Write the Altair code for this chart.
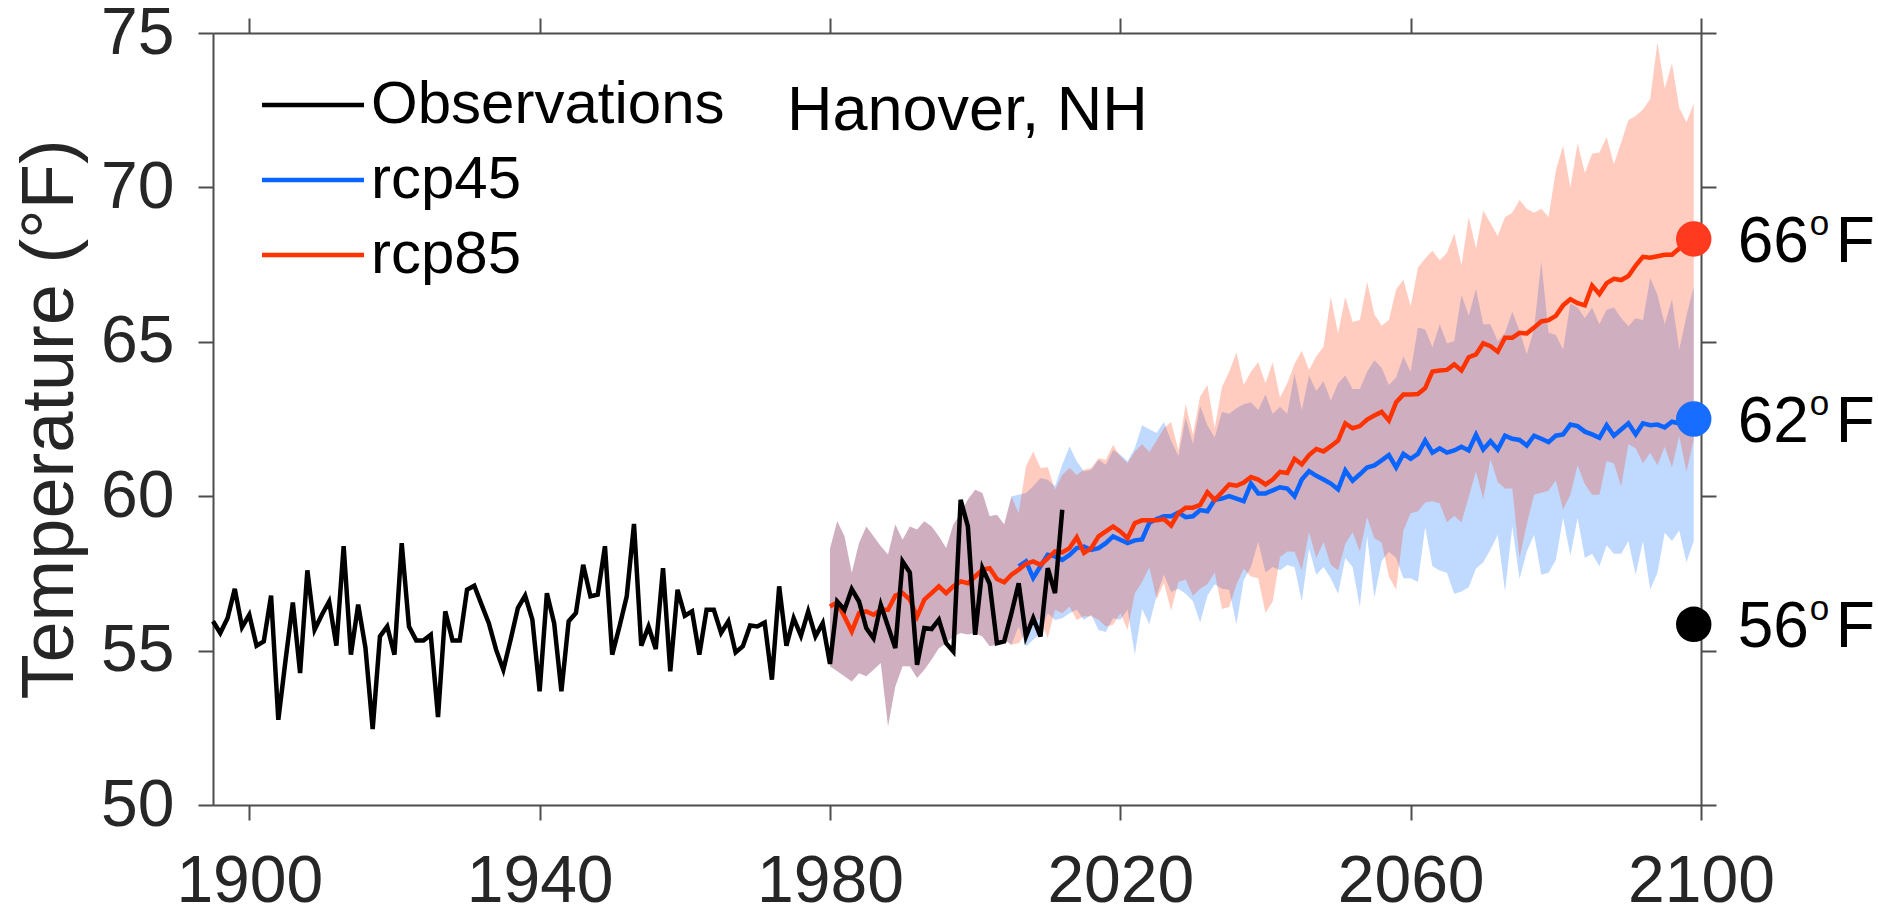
import altair as alt
import pandas as pd

# ---------------- data ----------------
obs_start = 1895
obs_temp = [
    55.95, 55.57, 56.05, 57.0, 55.76, 56.16, 55.16, 55.3, 56.78, 52.76,
    54.7, 56.56, 54.27, 57.6, 55.68, 56.16, 56.59, 55.16, 58.38, 54.87,
    56.49, 55.1, 52.46, 55.46, 55.78, 54.87, 58.48, 55.78, 55.33, 55.33,
    55.51, 52.85, 56.27, 55.33, 55.33, 56.97, 57.1, 56.49, 55.89, 55.03,
    54.38, 55.35, 56.38, 56.78, 56.0, 53.68, 56.86, 55.89, 53.68, 55.95,
    56.22, 57.78, 56.76, 56.81, 58.38, 54.87, 55.78, 56.76, 59.1, 55.16,
    55.78, 55.05, 57.67, 54.33, 56.97, 56.13, 56.27, 54.87, 56.32, 56.32,
    55.57, 55.95, 54.94, 55.14, 55.81, 55.78, 55.91, 54.06, 57.08, 55.16,
    56.05, 55.48, 56.27, 55.46, 55.89, 54.57, 56.59, 56.32, 56.99, 56.59,
    55.73, 55.4, 56.48, 55.78, 55.08, 57.89, 57.53, 54.54, 55.73, 55.7,
    56.0, 55.24, 54.97, 59.88, 59.02, 55.51, 57.67, 57.16, 55.24, 55.3,
    56.21, 57.18, 55.46, 56.05, 55.46, 57.67, 56.86, 59.56,
]

hist_start = 1980  # shared model spread 1980-2005
hist_upper = [
    58.3, 59.19, 58.7, 57.51, 58.48, 59.02, 58.7, 58.38, 58.11, 59.08,
    58.59, 59.02, 58.92, 59.19, 59.02, 58.7, 58.32, 59.08, 59.45, 59.89,
    60.21, 60.1, 59.35, 59.4, 59.08, 59.99,
]
hist_lower = [
    54.49, 54.33, 54.17, 54.0, 54.27, 54.17, 54.38, 54.6, 52.55, 53.84,
    54.49, 54.49, 54.11, 54.38, 54.71, 55.08, 55.24, 55.46, 55.57, 55.52,
    55.57, 55.46, 55.14, 55.19, 55.35, 55.19,
]

rcp85_start = 1980
rcp85_mean = [
    56.43, 56.56, 56.1, 55.62, 56.21, 56.27, 56.16, 56.32, 56.32, 56.78,
    56.86, 56.65, 56.1, 56.65, 56.86, 57.08, 56.86, 57.08, 57.24, 57.18,
    57.4, 57.62, 57.67, 57.32, 57.21, 57.46, 57.62, 57.81, 57.89, 57.78,
    57.99, 58.21, 58.18, 58.32, 58.67, 58.16, 58.32, 58.7, 58.86, 59.02,
    58.86, 58.64, 59.13, 59.22, 59.22, 59.22, 59.26, 59.05, 59.45, 59.63,
    59.63, 59.72, 60.13, 59.88, 60.13, 60.38, 60.34, 60.44, 60.62, 60.54,
    60.38, 60.54, 60.79, 60.75, 61.21, 61.03, 61.33, 61.53, 61.45, 61.62,
    61.8, 62.36, 62.2, 62.27, 62.48, 62.61, 62.73, 62.45, 63.04, 63.29,
    63.29, 63.31, 63.5, 64.04, 64.07, 64.09, 64.27, 64.07, 64.5, 64.59,
    64.95, 64.86, 64.68, 65.13, 65.13, 65.29, 65.27, 65.46, 65.66, 65.7,
    65.84, 66.18, 66.38, 66.25, 66.18, 66.82, 66.55, 66.9, 67.04, 67.0,
    67.13, 67.47, 67.75, 67.72, 67.77, 67.82, 67.82, 68.02, 68.22, 68.33,
]

rcp45_start = 2006
rcp45_mean = [
    57.73, 57.89, 57.35, 57.73, 58.1, 58.05, 57.94, 58.1, 58.32, 58.37,
    58.26, 58.32, 58.48, 58.7, 58.59, 58.48, 58.57, 58.6, 59.14, 59.26,
    59.35, 59.35, 59.47, 59.32, 59.35, 59.55, 59.51, 59.88, 59.92, 60.0,
    59.92, 59.84, 60.41, 60.09, 60.09, 60.19, 60.29, 60.25, 60.0, 60.54,
    60.81, 60.66, 60.54, 60.41, 60.22, 60.83, 60.5, 60.71, 60.93, 61.0,
    61.16, 61.33, 60.93, 61.37, 61.21, 61.37, 61.8, 61.41, 61.55, 61.41,
    61.48, 61.6, 61.48, 61.99, 61.51, 61.78, 61.51, 61.96, 61.86, 61.82,
    61.64, 61.96, 61.86, 61.75, 61.96, 62.0, 62.32, 62.27, 62.09, 62.0,
    61.89, 62.3, 61.96, 62.16, 62.36, 62.0, 62.36, 62.3, 62.32, 62.23,
    62.41, 62.36, 62.46, 62.5,
]

future_start = 2006  # scenario spreads 2006-2099
rcp85_upper = [
    59.45, 60.96, 61.45, 60.91, 60.94, 60.21, 60.69, 60.91, 60.69, 60.86,
    60.91, 61.23, 61.18, 61.66, 61.29, 61.07, 61.45, 61.68, 61.43, 61.8,
    62.2, 62.4, 61.5, 62.98, 62.0, 63.23, 63.6, 62.2, 63.54, 64.03,
    64.65, 63.6, 64.03, 64.34, 63.66, 64.34, 63.2, 63.66, 64.28, 64.71,
    64.09, 64.53, 64.84, 66.45, 65.27, 66.45, 65.64, 65.71, 66.94, 65.89,
    65.52, 65.71, 66.7, 67.01, 66.14, 67.4, 67.7, 67.95, 67.64, 67.88,
    68.5, 67.47, 69.04, 68.02, 69.25, 68.84, 68.43, 69.04, 69.18, 69.59,
    69.31, 69.18, 69.31, 69.04, 70.54, 71.36, 69.99, 71.43, 70.47, 71.09,
    71.13, 71.63, 70.75, 71.45, 72.18, 72.31, 72.52, 72.86, 74.7, 73.2,
    74.02, 72.59, 72.11, 72.72,
]
rcp45_upper = [
    60.05, 60.1, 60.32, 60.59, 60.53, 60.32, 61.02, 61.61, 61.13, 60.8,
    60.86, 61.18, 61.02, 61.5, 61.34, 61.13, 61.56, 62.3, 62.17, 62.05,
    62.4, 61.8, 61.3, 62.54, 61.7, 62.92, 62.3, 61.9, 62.73, 62.67,
    62.85, 62.98, 63.04, 62.79, 63.29, 62.67, 62.9, 62.67, 63.97, 62.79,
    63.91, 63.41, 63.72, 63.1, 63.66, 63.91, 63.47, 63.47, 64.03, 64.4,
    64.16, 63.6, 63.85, 64.53, 64.03, 65.46, 65.4, 64.82, 65.57, 64.95,
    65.02, 66.52, 65.84, 66.72, 65.57, 65.57, 65.02, 65.29, 65.97, 65.36,
    64.6, 65.43, 67.6, 65.29, 65.22, 64.75, 66.25, 66.11, 65.77, 66.11,
    65.57, 66.04, 66.11, 65.77, 65.5, 65.77, 65.7, 67.07, 66.52, 65.57,
    66.38, 64.75, 65.84, 66.79,
]
rcp85_lower = [
    55.24, 55.57, 56.0, 56.0, 55.4, 56.32, 56.21, 56.43, 55.99, 56.11,
    56.11, 56.0, 55.78, 55.84, 56.21, 55.67, 56.86, 57.22, 57.71, 56.66,
    57.2, 56.29, 57.22, 57.3, 56.78, 57.0, 57.15, 57.53, 56.35, 56.41,
    57.15, 57.65, 57.4, 57.34, 56.22, 56.6, 58.02, 58.21, 58.2, 57.6,
    58.83, 58.0, 58.52, 57.77, 57.6, 58.46, 58.83, 58.21, 59.32, 58.64,
    58.5, 57.4, 56.97, 58.89, 59.45, 59.51, 59.8, 59.84, 59.77, 59.16,
    59.37, 59.16, 59.98, 60.8, 59.91, 61.2, 60.46, 60.25, 60.25, 58.0,
    59.09, 60.05, 60.11, 60.18, 60.52, 59.57, 60.05, 61.0, 60.39, 60.05,
    60.05, 61.14, 61.07, 60.32, 61.68, 61.55, 61.07, 61.41, 61.0, 61.6,
    60.93, 61.95, 60.8, 61.82,
]
rcp45_lower = [
    55.78, 55.13, 55.35, 55.57, 56.21, 55.99, 56.05, 56.21, 56.32, 55.99,
    56.16, 55.67, 55.6, 56.05, 56.0, 56.32, 54.87, 56.35, 55.85, 56.78,
    57.46, 56.9, 57.0, 56.84, 56.6, 55.91, 56.78, 57.15, 57.0, 56.97,
    55.85, 57.28, 57.71, 58.52, 57.53, 57.71, 57.6, 57.77, 57.71, 56.6,
    58.3, 57.46, 57.71, 57.34, 56.84, 58.0, 57.71, 56.41, 58.7, 56.72,
    57.9, 58.2, 58.0, 57.34, 57.34, 57.22, 59.0, 57.73, 57.59, 57.52,
    56.84, 56.91, 57.05, 57.66, 57.86, 58.27, 58.75, 56.91, 59.02, 57.32,
    58.21, 58.75, 57.46, 57.52, 57.93, 59.3, 58.07, 59.3, 58.0, 58.14,
    57.73, 58.41, 58.14, 58.14, 58.55, 57.46, 58.55, 56.98, 57.52, 58.82,
    58.55, 58.89, 57.86, 58.55,
]

series_names = ["Observations", "rcp45", "rcp85"]
line_colors = ["#000000", "#0a64ff", "#ff3300"]
dot_colors = ["#000000", "#176dff", "#ff3a1f"]
end_year = 2099
end_values = [55.85, 62.5, 68.33]
end_labels = ["56", "62", "66"]
x_ticks = [1900, 1940, 1980, 2020, 2060, 2100]
y_ticks = [50, 55, 60, 65, 70, 75]

# ---------------- tables ----------------
def yrs(start, n):
    return list(range(start, start + n))

obs_df = pd.DataFrame({"year": yrs(obs_start, len(obs_temp)), "temp": obs_temp,
                       "series": "Observations"})
r85_df = pd.DataFrame({"year": yrs(rcp85_start, len(rcp85_mean)), "temp": rcp85_mean,
                       "series": "rcp85"})
r45_df = pd.DataFrame({"year": yrs(rcp45_start, len(rcp45_mean)), "temp": rcp45_mean,
                       "series": "rcp45"})
band_years = yrs(hist_start, len(hist_upper)) + yrs(future_start, len(rcp85_upper))
band85_df = pd.DataFrame({"year": band_years, "lo": hist_lower + rcp85_lower,
                          "hi": hist_upper + rcp85_upper})
band45_df = pd.DataFrame({"year": band_years, "lo": hist_lower + rcp45_lower,
                          "hi": hist_upper + rcp45_upper})
end_df = pd.DataFrame({"series": series_names, "year": end_year, "temp": end_values,
                       "label": end_labels})

# ---------------- scales & axes ----------------
FONT = "Liberation Sans"
x_scale = alt.Scale(domain=[1895, 2100], nice=False, zero=False)
y_scale = alt.Scale(domain=[50, 75], nice=False, zero=False)
color_scale = alt.Scale(domain=series_names, range=line_colors)

axis_style = dict(domainColor="#4d4d4d", domainWidth=2, tickColor="#4d4d4d",
                  tickWidth=2, tickSize=15, grid=False)
x_bottom = alt.Axis(orient="bottom", values=x_ticks, format="d", labelFontSize=66,
                    labelFont=FONT, labelColor="#262626", labelPadding=29,
                    labelFlush=False, labelOverlap=False, title=None, **axis_style)
x_top = alt.Axis(orient="top", values=x_ticks, labels=False, title=None, **axis_style)
y_left = alt.Axis(orient="left", values=y_ticks, labelFontSize=66, labelFont=FONT,
                  labelColor="#262626", labelPadding=24, labelOverlap=False,
                  title="Temperature (°F)", titleFontSize=74, titleFont=FONT,
                  titleFontWeight="normal", titleColor="#262626", titleX=-141,
                  titleY=386, titleAngle=270, titleAlign="center",
                  titleBaseline="alphabetic", **axis_style)
y_right = alt.Axis(orient="right", values=y_ticks, labels=False, title=None, **axis_style)

legend = alt.Legend(orient="none", legendX=70, legendY=42, title=None,
                    symbolType="M-5.1,0H5.1", symbolSize=400, symbolStrokeWidth=4.5,
                    labelFontSize=60, labelFont=FONT, labelColor="#000000",
                    labelLimit=0, labelOffset=28, rowPadding=15, padding=0)
color_enc = alt.Color("series:N", scale=color_scale, legend=legend)

def X(axis=None):
    return alt.X("year:Q", scale=x_scale, axis=axis)

# ---------------- layers ----------------
band45 = alt.Chart(band45_df).mark_area(color="#0066ff", opacity=0.25).encode(
    x=X(x_bottom), y=alt.Y("lo:Q", scale=y_scale, axis=y_left), y2="hi:Q")
band85 = alt.Chart(band85_df).mark_area(color="#ff3300", opacity=0.25).encode(
    x=X(), y=alt.Y("lo:Q", scale=y_scale, axis=None), y2="hi:Q")

def line(df):
    return alt.Chart(df).mark_line(strokeWidth=4.5).encode(
        x=X(), y=alt.Y("temp:Q", scale=y_scale, axis=None), color=color_enc)

dots = alt.Chart(end_df).mark_circle(size=1257, opacity=1).encode(
    x=X(x_top), y=alt.Y("temp:Q", scale=y_scale, axis=y_right),
    fill=alt.Fill("series:N", scale=alt.Scale(domain=series_names, range=dot_colors),
                  legend=None))

def txt(dx, dy, size, text):
    return alt.Chart(end_df).mark_text(align="left", baseline="alphabetic", dx=dx, dy=dy,
                                       fontSize=size, font=FONT, color="#000000").encode(
        x=X(), y=alt.Y("temp:Q", scale=y_scale, axis=None), text=text)

lab_num = txt(44, 23, 64, alt.Text("label:N"))
lab_o = txt(116, -4, 35, alt.value("o"))
lab_F = txt(142, 23, 64, alt.value("F"))

chart = alt.layer(
    band45, band85, line(r45_df), line(r85_df), line(obs_df), dots, lab_num, lab_o, lab_F
).properties(
    width=1488, height=772,
    title=alt.TitleParams("Hanover, NH", anchor="start", frame="group", orient="top",
                          fontSize=63, font=FONT, fontWeight="normal", color="#000000",
                          baseline="alphabetic", dx=574, dy=193, offset=0),
    padding={"left": 213, "top": 33, "right": 177, "bottom": 110},
    autosize=alt.AutoSizeParams(type="none"),
    background="white",
).configure_view(stroke=None)

chart.save("out.html", embed_options={"renderer": "svg", "actions": False})
